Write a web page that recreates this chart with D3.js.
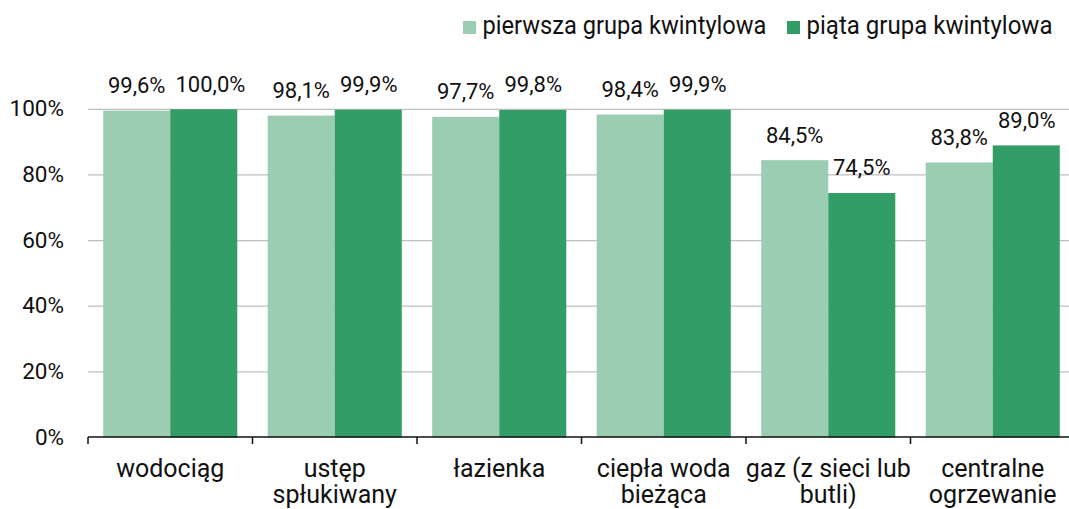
<!DOCTYPE html>
<html><head><meta charset="utf-8">
<script src="https://cdn.jsdelivr.net/npm/d3@7"></script>
<style>body{margin:0;background:#fff}svg{display:block}text{font-family:Roboto,"Noto Sans",sans-serif;fill:#111}</style>
</head><body>
<svg id="c" width="1069" height="509"></svg>
<script>
const categories = [["wodociąg"],["ustęp","spłukiwany"],["łazienka"],["ciepła woda","bieżąca"],["gaz (z sieci lub","butli)"],["centralne","ogrzewanie"]];
const seriesNames = ["pierwsza grupa kwintylowa","piąta grupa kwintylowa"];
const firstQuintile = [99.6, 98.1, 97.7, 98.4, 84.5, 83.8];
const fifthQuintile = [100.0, 99.9, 99.8, 99.9, 74.5, 89.0];
const yTicks = [0, 20, 40, 60, 80, 100];
const colors = ["#9acdb2", "#339d68"];

const svg = d3.select("#c");
const x0 = d3.scaleBand().domain(d3.range(categories.length)).range([88, 1075]).paddingInner(0.185).paddingOuter(0.0925);
const x1 = d3.scaleBand().domain([0,1]).range([0, x0.bandwidth()]);
const y = d3.scaleLinear().domain([0,100]).range([437.5, 109.3]);
const fmt = v => d3.format(".1f")(v).replace(".", ",") + "%";

svg.append("g").selectAll("line").data(yTicks.filter(t=>t>0)).join("line")
  .attr("x1", 88).attr("x2", 1069).attr("y1", d=>y(d)).attr("y2", d=>y(d))
  .attr("stroke", "#bfbfbf").attr("stroke-width", 1.3);

svg.append("g").selectAll("text").data(yTicks).join("text")
  .attr("x", 64).attr("y", d=>y(d)+7).attr("text-anchor","end")
  .style("font-size","22.5px").text(d=>d+"%");

const data = categories.map((c,i)=>({i, vals:[firstQuintile[i], fifthQuintile[i]]}));
const g = svg.append("g").selectAll("g").data(data).join("g").attr("transform", d=>`translate(${x0(d.i)},0)`);
g.selectAll("rect").data(d=>d.vals.map((v,s)=>({v,s}))).join("rect")
  .attr("x", d=>x1(d.s)).attr("width", x1.bandwidth())
  .attr("y", d=>y(d.v)).attr("height", d=>y(0)-y(d.v)).attr("fill", d=>colors[d.s]);
g.each(function(){
  const labs = d3.select(this).selectAll("text.v").data(d=>d.vals.map((v,s)=>({v,s}))).join("text").attr("class","v")
    .attr("y", d=>y(d.v)-17.5).attr("text-anchor","start")
    .style("font-size","22px").text(d=>fmt(d.v));
  let prevRight = -Infinity, prevY = null;
  labs.each(function(d){
    const w = this.getComputedTextLength();
    let left = x1(d.s)+x1.bandwidth()/2 - w/2;
    const ly = y(d.v)-17.5;
    if (prevY !== null && Math.abs(ly - prevY) < 20 && left < prevRight + 10) left = prevRight + 10;
    d3.select(this).attr("x", left);
    prevRight = left + w; prevY = ly;
  });
});

const step = x0.step();
const bounds = d3.range(categories.length).map(i=>x0(i)-x0.paddingOuter()*step);
svg.append("line").attr("x1",88).attr("x2",1069).attr("y1",437).attr("y2",437).attr("stroke","#111").attr("stroke-width",1.5);
svg.append("g").selectAll("line").data(bounds).join("line")
  .attr("x1",d=>d).attr("x2",d=>d).attr("y1",437).attr("y2",444).attr("stroke","#111").attr("stroke-width",1.5);
svg.append("g").selectAll("text").data(categories).join("text")
  .attr("x",(d,i)=>x0(i)+x0.bandwidth()/2).attr("y",476.5).attr("text-anchor","middle").style("font-size","25px")
  .selectAll("tspan").data(d=>d).join("tspan").attr("x",function(){return this.parentNode.getAttribute("x");})
  .attr("dy",(d,j)=>j===0?0:26.5).text(d=>d);

const legX = [463, 787];
const legW = [284, 246];
const lg = svg.append("g").selectAll("g").data(seriesNames).join("g").attr("transform",(d,i)=>`translate(${legX[i]},0)`);
lg.append("rect").attr("x",0).attr("y",21).attr("width",13).attr("height",13).attr("fill",(d,i)=>colors[i]);
lg.append("text").attr("x",19.5).attr("y",34.3).style("font-size","25px")
  .attr("textLength",(d,i)=>legW[i]).attr("lengthAdjust","spacingAndGlyphs").text(d=>d);
</script>
</body></html>
